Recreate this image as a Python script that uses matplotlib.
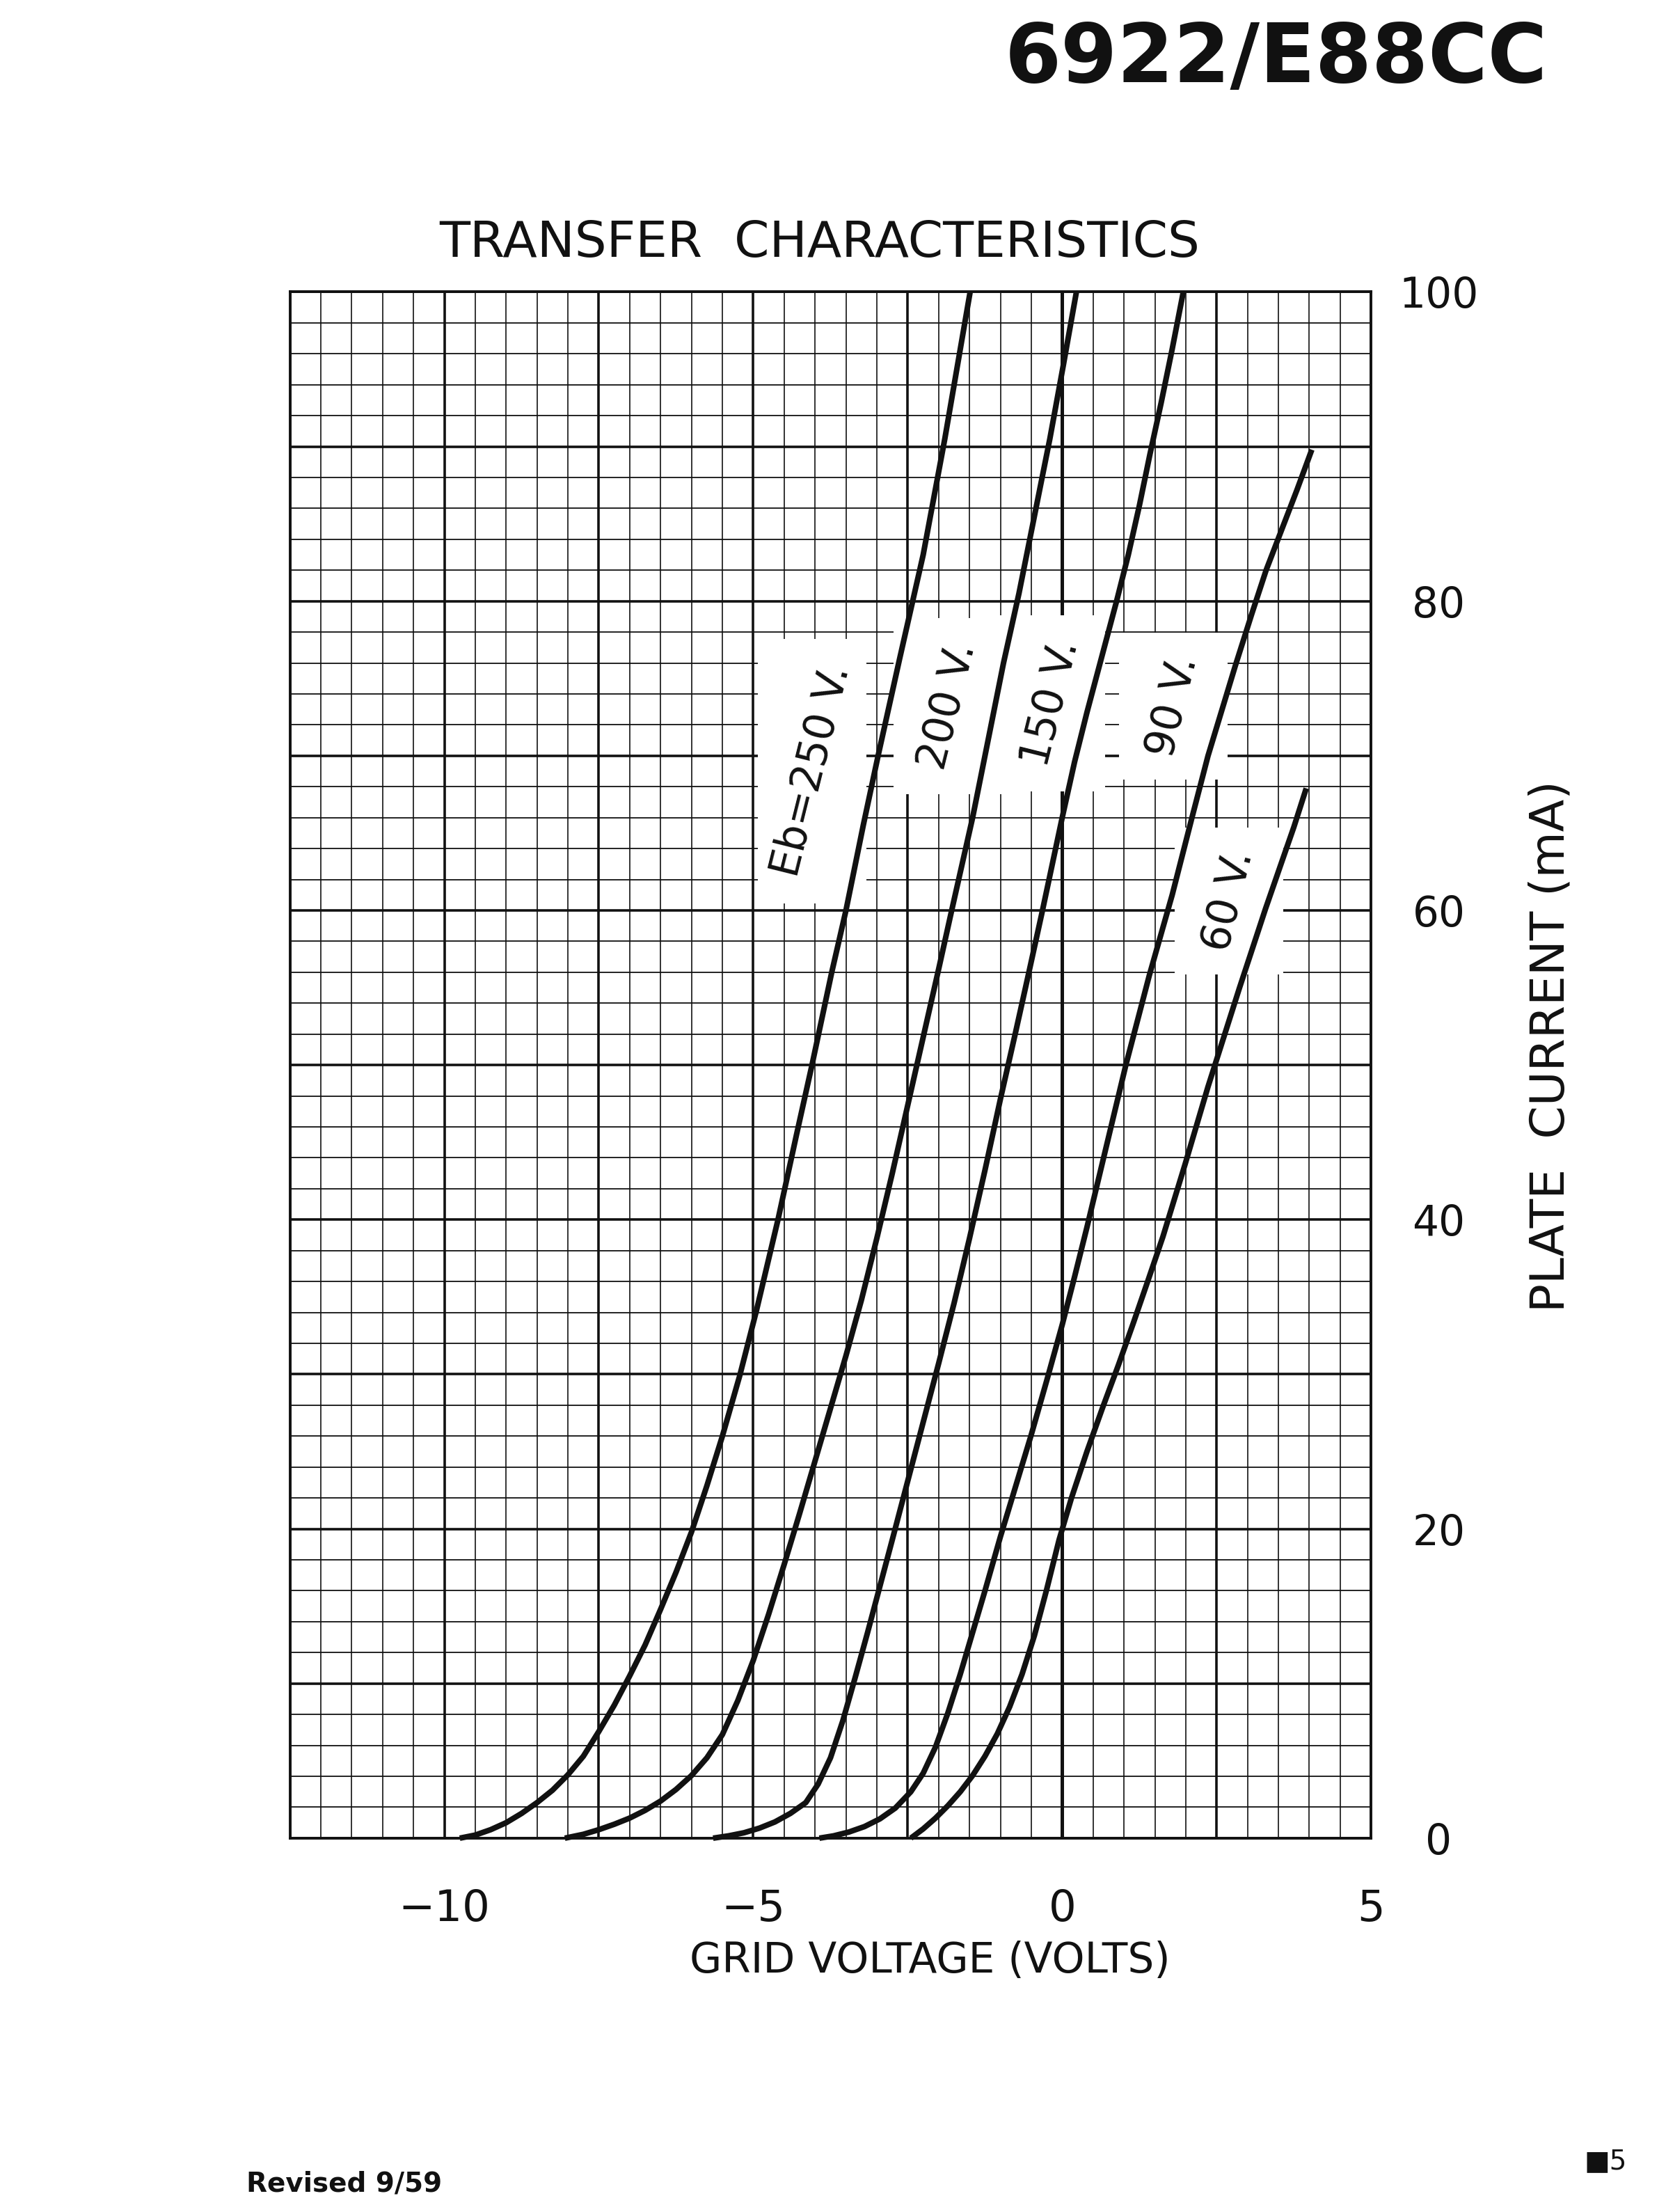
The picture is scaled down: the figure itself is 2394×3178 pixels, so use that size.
import numpy as np
import matplotlib
matplotlib.use("Agg")
from matplotlib import pyplot as plt
from matplotlib.patches import Rectangle

# curve values read from the sheet (grid voltage V, plate current mA)
ec_250 = [-9.75, -9.5, -9.25, -9.0, -8.75, -8.5, -8.25, -8.0, -7.75, -7.5, -7.25, -7.0, -6.75,
          -6.5, -6.25, -6.0, -5.75, -5.5, -5.22, -4.95, -4.6, -4.3, -4.05, -3.73, -3.5, -3.22,
          -2.98, -2.63, -2.25, -1.9, -1.49]
ib_250 = [0, 0.2, 0.55, 1.0, 1.6, 2.3, 3.1, 4.1, 5.3, 6.9, 8.6, 10.5, 12.5,
          14.8, 17.2, 19.8, 22.8, 26.0, 29.9, 34.1, 40, 45.5, 50, 56, 60, 65.5,
          70, 76.3, 83, 90.5, 100]

ec_200 = [-8.05, -7.75, -7.5, -7.25, -7.0, -6.75, -6.5, -6.25, -6.0, -5.75, -5.5, -5.25, -5.0,
          -4.75, -4.5, -4.25, -4.0, -3.75, -3.5, -3.25, -3.0, -2.75, -2.5, -2.25, -2.0, -1.8,
          -1.45, -1.25, -0.95, -0.7, -0.45, -0.2, 0.02, 0.23]
ib_200 = [0, 0.25, 0.55, 0.9, 1.3, 1.8, 2.4, 3.15, 4.05, 5.2, 6.7, 8.9, 11.5,
          14.5, 17.7, 21.0, 24.4, 27.8, 31.2, 34.8, 38.8, 43.0, 47.4, 51.8, 56.2, 59.8,
          66, 70, 76, 80.5, 85.5, 90.5, 95.3, 100]

ec_150 = [-5.65, -5.4, -5.15, -4.9, -4.65, -4.4, -4.15, -3.95, -3.75, -3.55, -3.35, -3.15, -2.95,
          -2.75, -2.5, -2.25, -2.0, -1.75, -1.5, -1.25, -1.0, -0.75, -0.55, -0.33, 0.0, 0.2,
          0.4, 0.6, 0.88, 1.07, 1.25, 1.42, 1.6, 1.78, 1.96]
ib_150 = [0, 0.15, 0.35, 0.65, 1.05, 1.6, 2.3, 3.5, 5.2, 7.6, 10.4, 13.3, 16.3,
          19.3, 23.1, 26.9, 30.7, 34.6, 38.8, 43.2, 47.8, 52.2, 55.8, 59.8, 66.0, 69.6,
          72.8, 75.8, 80.0, 83.0, 86.2, 89.5, 92.8, 96.3, 100]

ec_90 = [-3.93, -3.7, -3.45, -3.2, -2.95, -2.7, -2.45, -2.25, -2.05, -1.85, -1.65, -1.45, -1.25,
         -1.0, -0.75, -0.5, -0.25, 0.0, 0.2, 0.4, 0.76, 1.03, 1.41, 1.78, 2.1, 2.36,
         2.8, 3.07, 3.3, 3.55, 3.8, 4.04]
ib_90 = [0, 0.15, 0.4, 0.75, 1.25, 1.95, 3.0, 4.2, 5.9, 8.1, 10.6, 13.3, 16.0,
         19.5, 22.8, 26.1, 29.6, 33.2, 36.3, 39.5, 45.5, 50, 55.8, 61.0, 66, 70,
         75.8, 79.2, 82.0, 84.6, 87.2, 89.8]

ec_60 = [-2.45, -2.25, -2.05, -1.85, -1.65, -1.45, -1.25, -1.05, -0.85, -0.65, -0.45, -0.25, -0.05,
         0.15, 0.4, 0.65, 0.91, 1.15, 1.4, 1.63, 1.99, 2.36, 2.87, 3.29, 3.55, 3.75, 3.95]
ib_60 = [0, 0.6, 1.3, 2.1, 3.0, 4.05, 5.3, 6.75, 8.5, 10.6, 13.1, 16.1, 19.3,
         22.0, 25.0, 27.8, 30.6, 33.3, 36.2, 38.9, 43.6, 48.6, 55.0, 60.1, 63.1, 65.4, 67.9]

curve_labels = ["Eb=250 V.", "200 V.", "150 V.", "90 V.", "60 V."]
label_ec = [-4.05, -1.85, -0.18, 1.8, 2.7]
label_ib = [69.0, 73.2, 73.4, 73.2, 60.6]

xticks = [-10, -5, 0, 5]
xtick_labels = ["\u221210", "\u22125", "0", "5"]
yticks = [0, 20, 40, 60, 80, 100]

ink = "#111111"
plt.rcParams['font.family'] = ['DejaVu Sans']

fig = plt.figure(figsize=(23.94, 31.78), dpi=100)
ax = fig.add_axes([0.174, 0.169, 0.649, 0.699])
ax.set_xlim(-12.5, 5)
ax.set_ylim(0, 100)

#griglia: sottile ogni 0.5 V / 2 mA, spessa ogni 2.5 V / 10 mA
for v in np.arange(-12.5, 5.01, 0.5):
    thick = abs(v / 2.5 - round(v / 2.5)) < 1e-6
    ax.axvline(v, color=ink, lw=2.6 if thick else 1.2, zorder=0.5)
for i in np.arange(0, 100.1, 2):
    thick = i % 10 == 0
    ax.axhline(i, color=ink, lw=2.6 if thick else 1.3, zorder=0.5)
ax.axvline(0, color=ink, lw=3.6, zorder=0.8)

for sp in ax.spines.values():
    sp.set_linewidth(2.8)
    sp.set_color(ink)
    sp.set_zorder(0.9)

#curve
for ec, ib in [(ec_250, ib_250), (ec_200, ib_200), (ec_150, ib_150), (ec_90, ib_90), (ec_60, ib_60)]:
    ax.plot(ec, ib, color=ink, lw=5.8, solid_capstyle='butt', solid_joinstyle='round',
            zorder=3, clip_on=False)

#etichette con fondo bianco che copre la griglia
for lab, x, y in zip(curve_labels, label_ec, label_ib):
    hh = 0.95 * len(lab)
    hw = 0.88
    ax.add_patch(Rectangle((x - hw, y - hh), 2 * hw, 2 * hh, facecolor='white',
                           edgecolor='none', zorder=1))
    ax.text(x, y, lab, rotation=76, rotation_mode='anchor', ha='center', va='center',
            fontsize=43, color=ink, zorder=4)

ax.set_xticks(xticks)
ax.set_xticklabels(xtick_labels, fontsize=45, color=ink)
ax.yaxis.tick_right()
ax.set_yticks(yticks)
ax.set_yticklabels([str(t) for t in yticks], fontsize=43, color=ink)
plt.setp(ax.get_yticklabels(), ha='center')
ax.tick_params(axis='y', length=0, pad=70)
ax.tick_params(axis='x', length=0, pad=52)

fig.text(0.558, 0.1135, "GRID VOLTAGE (VOLTS)", ha='center', va='center', fontsize=43, color=ink)
fig.text(0.931, 0.527, "PLATE  CURRENT (mA)", ha='center', va='center', rotation=90,
         fontsize=49, color=ink)
fig.text(0.492, 0.890, "TRANSFER  CHARACTERISTICS", ha='center', va='center', fontsize=52,
         color=ink)
fig.text(0.929, 0.963, "6922/E88CC", ha='right', va='baseline', fontsize=84, fontweight='bold',
         color=ink)
fig.text(0.148, 0.0128, "Revised 9/59", ha='left', va='center', fontsize=28, fontweight='bold',
         color=ink)
fig.text(0.951, 0.023, "\u25a05", ha='left', va='center', fontsize=28, color=ink)

fig.savefig("out.png", dpi=100, facecolor='white')
